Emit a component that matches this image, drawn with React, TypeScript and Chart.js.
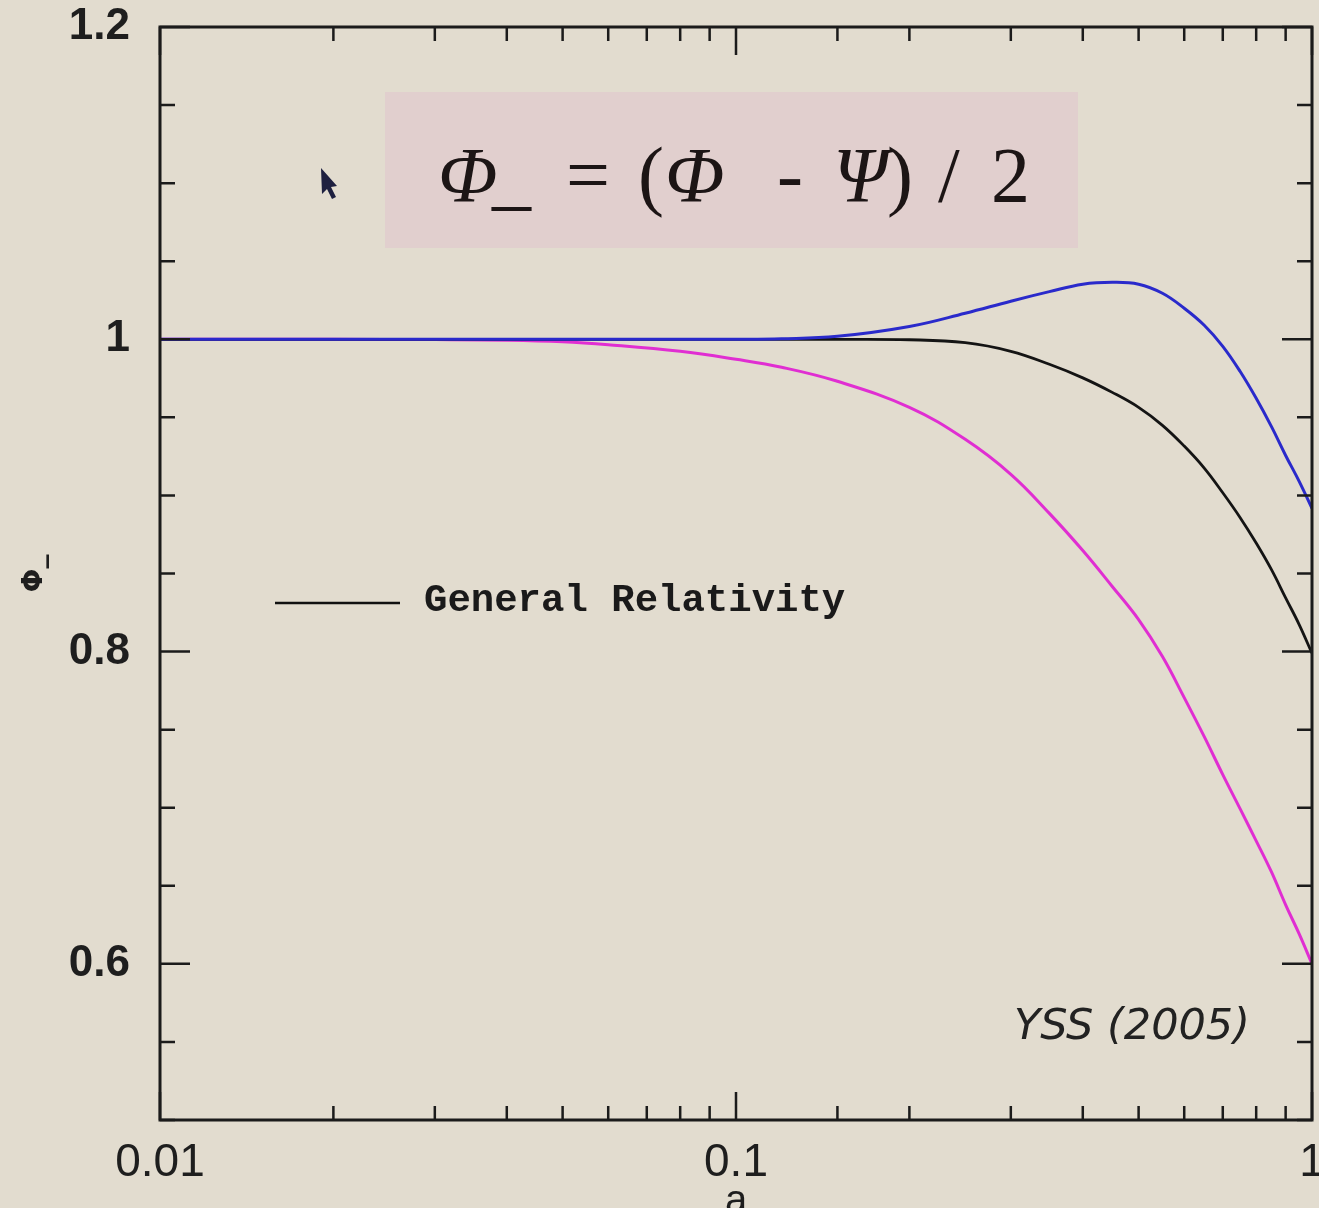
import React, { useEffect, useRef } from "react";
import { Chart, registerables } from "chart.js";

Chart.register(...registerables);

// ---- data ----
const aValues = [0.01, 0.02, 0.03, 0.04, 0.05, 0.06, 0.08, 0.1, 0.12, 0.15, 0.2, 0.25, 0.3, 0.35, 0.4, 0.45, 0.5, 0.55, 0.6, 0.65, 0.7, 0.75, 0.8, 0.85, 0.9, 0.95, 1.0];
const grValues = [1, 1, 1, 1, 1, 1, 1, 1, 1, 1, 0.9997, 0.9978, 0.9923, 0.984, 0.9753, 0.966, 0.9564, 0.9449, 0.9316, 0.9175, 0.9017, 0.8859, 0.8695, 0.8526, 0.8344, 0.8173, 0.7989];
const blueValues = [1, 1, 1, 1, 1, 1, 1, 1, 1.0003, 1.0019, 1.0082, 1.0167, 1.0244, 1.0305, 1.0353, 1.0365, 1.0353, 1.0295, 1.0199, 1.009, 0.9955, 0.9795, 0.9622, 0.9442, 0.9256, 0.909, 0.8917];
const magentaValues = [1, 1, 0.9998, 0.9994, 0.9984, 0.9965, 0.9923, 0.9872, 0.9821, 0.9731, 0.9564, 0.9359, 0.9135, 0.8885, 0.8647, 0.8417, 0.8205, 0.7968, 0.7705, 0.7455, 0.7212, 0.6994, 0.6788, 0.659, 0.6378, 0.6192, 0.6];

const xLabelTicks = [0.01, 0.1, 1];
const yLabelTicks = [0.6, 0.8, 1, 1.2];
const xTitle = "a";
const yTitle = "Φ_";
const legendLabel = "General Relativity";
const citation = "YSS (2005)";
const formulaParts: [string, boolean][] = [
  ["Φ", true], ["_", false], ["=", false], ["(", false], ["Φ", true], ["-", false], ["Ψ", true], [")", false], ["/", false], ["2", false],
];
const formulaX = [438, 492, 566, 638, 665, 777, 833, 887, 938, 991];

const BG = "#e2dccf";
const BOX = "#e1cfce";
const INK = "#1b1b1b";

const isMajorY = (v: number) => yLabelTicks.some((t) => Math.abs(t - v) < 1e-6);
const isMajorX = (v: number) => Math.abs(Math.log10(v) - Math.round(Math.log10(v))) < 1e-6;

const decorPlugin = {
  id: "decor",
  beforeDraw(chart: any) {
    const { ctx, width, height } = chart;
    ctx.save();
    ctx.fillStyle = BG;
    ctx.fillRect(0, 0, width, height);
    // formula box
    ctx.fillStyle = BOX;
    ctx.fillRect(385, 92, 693, 156);
    ctx.fillStyle = "#1c1515";
    ctx.textBaseline = "alphabetic";
    ctx.textAlign = "left";
    formulaParts.forEach(([t, it], i) => {
      ctx.font = `${it ? "italic " : ""}78px "Liberation Serif", "Times New Roman", serif`;
      ctx.fillText(t, formulaX[i], 201);
    });
    ctx.restore();
  },
  afterDraw(chart: any) {
    const { ctx, chartArea } = chart;
    const { left, right, top, bottom } = chartArea;
    const xs = chart.scales.x;
    const ys = chart.scales.y;
    ctx.save();
    ctx.strokeStyle = INK;
    ctx.lineCap = "butt";
    // ticks
    ctx.lineWidth = 2.5;
    ctx.beginPath();
    xs.ticks.forEach((t: any) => {
      const px = xs.getPixelForValue(t.value);
      const len = isMajorX(t.value) ? 28 : 14;
      ctx.moveTo(px, bottom);
      ctx.lineTo(px, bottom - len);
      ctx.moveTo(px, top);
      ctx.lineTo(px, top + len);
    });
    ys.ticks.forEach((t: any) => {
      const py = ys.getPixelForValue(t.value);
      const len = isMajorY(t.value) ? 30 : 15;
      ctx.moveTo(left, py);
      ctx.lineTo(left + len, py);
      ctx.moveTo(right, py);
      ctx.lineTo(right - len, py);
    });
    ctx.stroke();
    // frame
    ctx.lineWidth = 3;
    ctx.strokeRect(left, top, right - left, bottom - top);
    // legend entry
    ctx.lineWidth = 2.5;
    ctx.strokeStyle = "#111";
    ctx.beginPath();
    ctx.moveTo(275, 603);
    ctx.lineTo(400, 603);
    ctx.stroke();
    ctx.fillStyle = "#1a1a1a";
    ctx.font = 'bold 39px "Liberation Mono", "DejaVu Sans Mono", monospace';
    ctx.textBaseline = "middle";
    ctx.textAlign = "left";
    ctx.fillText(legendLabel, 424, 601);
    // citation
    ctx.font = 'italic 43px "DejaVu Sans", sans-serif';
    ctx.fillStyle = "#222";
    ctx.textBaseline = "alphabetic";
    ctx.fillText(citation, 1014, 1039);
    // cursor arrow
    ctx.fillStyle = "#1e2040";
    ctx.beginPath();
    ctx.moveTo(321, 168);
    ctx.lineTo(337, 186);
    ctx.lineTo(331, 187);
    ctx.lineTo(336, 197);
    ctx.lineTo(332, 199);
    ctx.lineTo(327, 189);
    ctx.lineTo(322, 194);
    ctx.closePath();
    ctx.fill();
    ctx.restore();
  },
};

export default function App() {
  const ref = useRef<HTMLCanvasElement | null>(null);
  useEffect(() => {
    if (!ref.current) return;
    document.body.style.background = BG;
    const mk = (vals: number[]) => aValues.map((a, i) => ({ x: a, y: vals[i] }));
    const common = { pointRadius: 0, borderWidth: 3, tension: 0.4, fill: false, borderJoinStyle: "round" as const };
    const chart = new Chart(ref.current, {
      type: "line",
      data: {
        datasets: [
          { label: "Φ_ (blue model)", data: mk(blueValues), borderColor: "#2a2acb", ...common },
          { label: legendLabel, data: mk(grValues), borderColor: "#141414", ...common, borderWidth: 2.8 },
          { label: "Φ_ (magenta model)", data: mk(magentaValues), borderColor: "#e02ed2", ...common },
        ],
      },
      options: {
        animation: false,
        responsive: false,
        devicePixelRatio: 1,
        layout: { padding: { top: 27, right: 7, left: 0, bottom: 0 } },
        plugins: { legend: { display: false }, tooltip: { enabled: false } },
        scales: {
          x: {
            type: "logarithmic",
            min: 0.01,
            max: 1,
            grid: { display: false, drawTicks: false },
            border: { display: false },
            ticks: {
              autoSkip: false,
              maxRotation: 0,
              padding: 16,
              color: "#1e1e1e",
              font: { family: '"Liberation Sans Narrow", "Liberation Sans", sans-serif', size: 46 },
              callback: (v: any) => {
                const m = xLabelTicks.find((t) => Math.abs(t - Number(v)) / t < 1e-6);
                return m !== undefined ? String(m) : "";
              },
            },
            title: {
              display: true,
              text: xTitle,
              color: "#1e1e1e",
              font: { family: '"Liberation Sans", sans-serif', size: 40 },
              padding: { top: 0, bottom: -18 },
            },
            afterFit: (s: any) => {
              s.height = 88;
              s.paddingLeft = 0;
              s.paddingRight = 0;
            },
          },
          y: {
            type: "linear",
            min: 0.5,
            max: 1.2,
            grid: { display: false, drawTicks: false },
            border: { display: false },
            ticks: {
              stepSize: 0.05,
              autoSkip: false,
              padding: 30,
              color: "#1e1e1e",
              font: { family: '"Liberation Sans", sans-serif', size: 44, weight: "bold" },
              callback: (v: any) => {
                const m = yLabelTicks.find((t) => Math.abs(t - Number(v)) < 1e-6);
                return m !== undefined ? String(m) : "";
              },
            },
            title: {
              display: true,
              text: yTitle,
              color: "#1e1e1e",
              font: { family: '"DejaVu Sans", sans-serif', size: 28, weight: "bold" },
              padding: { top: 18, bottom: 0 },
            },
            afterFit: (s: any) => {
              s.width = 160;
              s.paddingTop = 0;
              s.paddingBottom = 0;
            },
          },
        },
      },
      plugins: [decorPlugin],
    } as any);
    return () => chart.destroy();
  }, []);
  return (
    <div style={{ position: "fixed", left: 0, top: 0, width: 1319, height: 1208, overflow: "hidden", background: BG }}>
      <canvas ref={ref} width={1319} height={1208} style={{ display: "block" }} />
    </div>
  );
}
